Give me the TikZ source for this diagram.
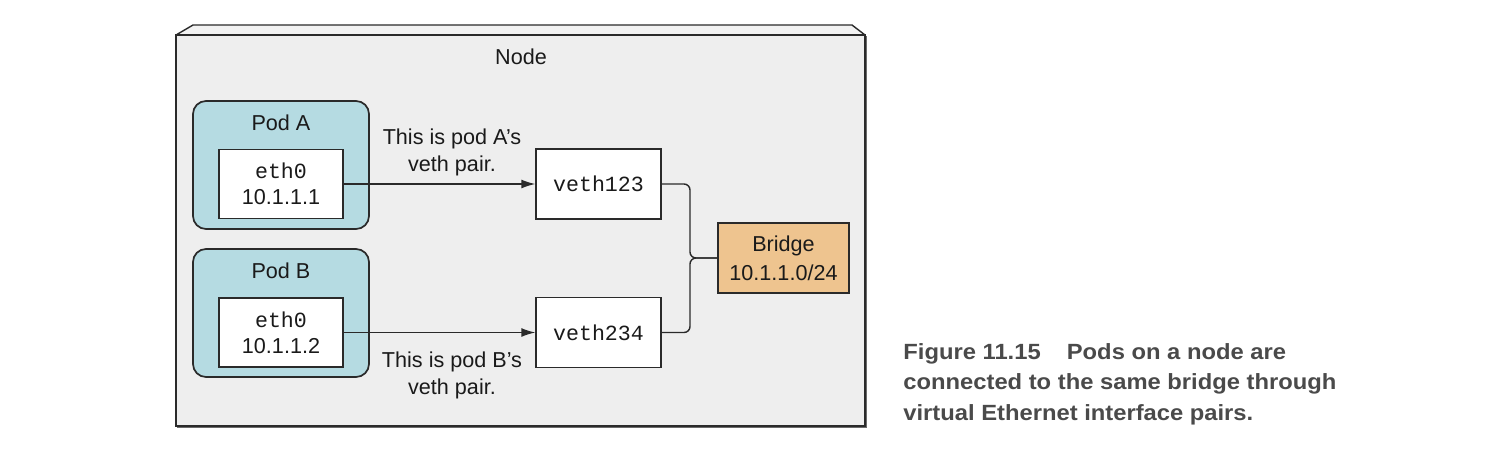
\documentclass[tikz,border=0pt]{standalone}
\usepackage{fontspec}
\setmainfont{Liberation Sans}
\setmonofont{Liberation Mono}
\usetikzlibrary{arrows.meta}
\definecolor{hostfill}{HTML}{EEEEEE}
\definecolor{topfill}{HTML}{F2F2F2}
\definecolor{podfill}{HTML}{B5DBE2}
\definecolor{bridgefill}{HTML}{EEC48F}
\definecolor{linec}{HTML}{2A2A2A}
\definecolor{textc}{HTML}{1A1A1A}
\definecolor{capc}{HTML}{4A4A4A}
\tikzset{
  txt/.style={font=\fontsize{10.8}{13.5}\selectfont, text=textc, inner sep=0pt, align=center},
  podbox/.style={draw=linec, line width=0.85pt, fill=podfill, rounded corners=6.5pt,
    minimum width=88pt, minimum height=64pt, inner sep=0pt},
  ifbox/.style={draw=linec, line width=0.7pt, fill=white, minimum width=62pt,
    minimum height=34.5pt, inner sep=0pt, align=center, text=textc,
    font=\fontsize{10.8}{13}\selectfont},
  vethbox/.style={ifbox, minimum width=62.5pt, minimum height=35pt},
  bridgebox/.style={ifbox, fill=bridgefill, minimum width=65.5pt, minimum height=35pt,
    font=\fontsize{10.8}{14.5}\selectfont},
  arr/.style={draw=linec, line width=0.7pt, -{Latex[length=7pt,width=4.5pt]}},
  conn/.style={draw=linec, line width=0.7pt, rounded corners=3pt},
}
\begin{document}
\begin{tikzpicture}[x=0.5pt,y=-0.5pt]
\useasboundingbox[fill=white] (0,0) rectangle (1500,472);
% host node box with top face
\draw[linec, line width=0.7pt, fill=topfill, line join=round] (176,35) -- (193,25) -- (852,25) -- (865,35) -- cycle;
\node[draw=linec, line width=0.8pt, fill=hostfill, minimum width=344.5pt, minimum height=195.5pt, inner sep=0pt] (host) at (520.5,230.5) {};
\draw[linec!70, line width=0.6pt] (177,427.5) -- (866.5,427.5) -- (866.5,36);
\node[txt] (hosttitle) at (521,57) {Node};
% pods
\node[podbox] (podA) at (281,165) {};
\node[txt] (podAt) at (281,123) {Pod A};
\node[ifbox] (ethA) at (281,184) {{\ttfamily eth0}\\10.1.1.1};
\node[podbox] (podB) at (281,313) {};
\node[txt] (podBt) at (281,271) {Pod B};
\node[ifbox] (ethB) at (281,332.5) {{\ttfamily eth0}\\10.1.1.2};
% veths
\node[vethbox, font=\fontsize{10.8}{13}\selectfont\ttfamily] (v1) at (598.5,184) {veth123};
\node[vethbox, font=\fontsize{10.8}{13}\selectfont\ttfamily] (v2) at (598.5,332.5) {veth234};
\node[bridgebox] (br) at (783.5,258) {Bridge\\10.1.1.0/24};
% arrows
\draw[arr] (ethA.east) -- (ethA.east -| v1.west);
\draw[arr] (ethB.east) -- (ethB.east -| v2.west);
\node[txt] (labA) at (452,152) {This is pod A’s\\veth pair.};
\node[txt] (labB) at (452,375) {This is pod B’s\\veth pair.};
% junction
\coordinate (j) at (690,258);
\draw[conn] (v1.east) -| (j) -- (br.west);
\draw[conn] (v2.east) -| (j) -- (br.west);
% caption
\node[anchor=north west, inner sep=0pt, align=left, text=capc,
  font=\fontsize{11}{15.25}\selectfont\bfseries] (cap) at (903,343)
  {\scalebox{1.08}[1]{Figure 11.15\hspace{1.1em}Pods on a node are}\\
   \scalebox{1.08}[1]{connected to the same bridge through}\\
   \scalebox{1.08}[1]{virtual Ethernet interface pairs.}};
\end{tikzpicture}
\end{document}
